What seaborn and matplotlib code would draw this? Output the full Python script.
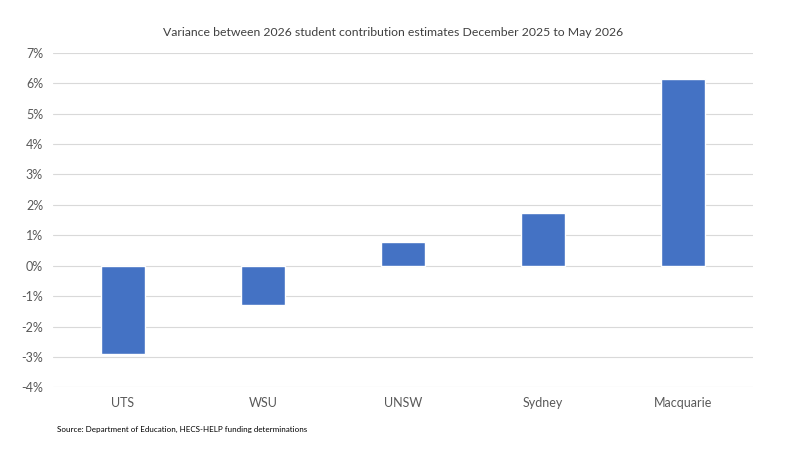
import matplotlib
matplotlib.use('Agg')
import matplotlib.pyplot as plt
import seaborn as sns
import pandas as pd
from matplotlib.ticker import PercentFormatter, MultipleLocator

universities = ['UTS', 'WSU', 'UNSW', 'Sydney', 'Macquarie']
variance_pct = [-2.89, -1.28, 0.77, 1.74, 6.13]

df = pd.DataFrame({'university': universities, 'variance': variance_pct})

sns.set_theme(style='white')
plt.rcParams['font.family'] = ['Lato', 'DejaVu Sans']
plt.rcParams['axes.unicode_minus'] = False

fig = plt.figure(figsize=(8, 4.5), dpi=100)
ax = fig.add_axes([0.066, 0.139, 0.875, 0.744])

sns.barplot(data=df, x='university', y='variance', color='#4472C4',
            saturation=1, width=0.314, ax=ax, zorder=3)

ax.set_ylim(-4, 7)
ax.set_xlim(-0.5, 4.5)
ax.yaxis.set_major_locator(MultipleLocator(1))
ax.yaxis.set_major_formatter(PercentFormatter(decimals=0))
ax.grid(axis='y', color='#D9D9D9', linewidth=0.8, zorder=0)
for s in ax.spines.values():
    s.set_visible(False)
ax.set_xlabel('')
ax.set_ylabel('')
ax.tick_params(axis='both', length=0, labelsize=9, colors='#595959')
ax.tick_params(axis='x', pad=7)
ax.tick_params(axis='y', pad=7)

fig.text(0.491, 0.928, 'Variance between 2026 student contribution estimates December 2025 to May 2026',
         ha='center', va='center', fontsize=8.8, color='#404040')
fig.text(0.071, 0.046, 'Source: Department of Education, HECS-HELP funding determinations',
         ha='left', va='center', fontsize=5.8, color='#000000')

fig.savefig('out.png', dpi=100)
plt.close()
